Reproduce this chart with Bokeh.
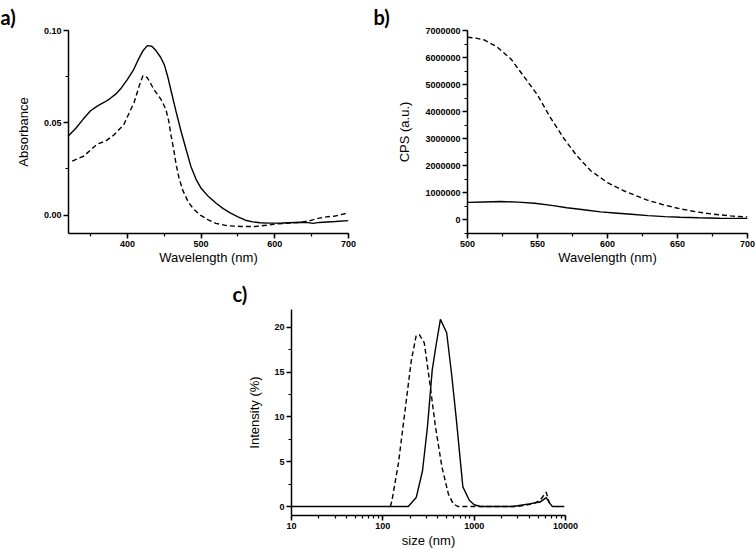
from bokeh.plotting import figure
from bokeh.layouts import column, row, Spacer
from bokeh.models import Range1d, SingleIntervalTicker, NumeralTickFormatter, LogTicker
from bokeh.embed import file_html
from bokeh.resources import INLINE

# ---- panel a: absorbance ----
a_wl_solid = [320, 330, 340, 350, 359, 368, 376, 384, 392, 400, 408, 415, 421, 427, 433, 439, 445, 450,
              455, 460, 466, 473, 480, 486, 493, 500, 510, 520, 530, 540, 550, 560, 570, 580, 591, 610,
              636, 645, 652, 660, 682, 700]
a_abs_solid = [0.043, 0.047, 0.052, 0.0565, 0.059, 0.061, 0.063, 0.0655, 0.069, 0.0735, 0.0785, 0.0845,
               0.089, 0.0918, 0.0915, 0.089, 0.0855, 0.0815, 0.0745, 0.066, 0.056, 0.045, 0.035, 0.0265,
               0.0195, 0.0145, 0.0100, 0.0065, 0.0035, 0.001, -0.001, -0.0028, -0.0037, -0.0042, -0.0044,
               -0.0043, -0.0039, -0.0041, -0.0045, -0.0040, -0.0035, -0.003]
a_wl_dashed = [325, 341, 352, 359, 370, 382, 395, 409, 416, 421, 427, 436, 445, 452, 456, 459, 463, 466,
               470, 475, 482, 489, 499, 509, 520, 536, 555, 573, 590, 600, 620, 636, 648, 659, 670, 682, 700]
a_abs_dashed = [0.0292, 0.032, 0.036, 0.0385, 0.040, 0.0435, 0.049, 0.061, 0.070, 0.0755, 0.0745, 0.068,
                0.063, 0.0575, 0.051, 0.0435, 0.035, 0.0275, 0.020, 0.0135, 0.0075, 0.0035, 0.000,
                -0.0025, -0.0045, -0.0058, -0.0062, -0.0062, -0.0055, -0.0049, -0.0044, -0.0039, -0.003,
                -0.0018, -0.001, -0.0005, 0.0012]

# ---- panel b: emission ----
b_wl_dashed = [500, 506, 512, 521, 531, 540, 550, 559, 569, 578, 588, 600, 612, 628, 640, 652, 664, 676, 688, 700]
b_cps_dashed = [6750000, 6720000, 6650000, 6400000, 5950000, 5320000, 4620000, 3800000, 3000000, 2380000,
                1820000, 1380000, 1070000, 740000, 560000, 410000, 295000, 210000, 150000, 110000]
b_wl_solid = [500, 512, 524, 536, 548, 560, 571, 583, 595, 605, 617, 629, 641, 652, 665, 680, 700]
b_cps_solid = [650000, 665000, 680000, 660000, 620000, 540000, 450000, 380000, 300000, 260000, 210000,
               160000, 125000, 100000, 80000, 65000, 60000]

# ---- panel c: DLS size distribution ----
c_size_solid = [10, 190, 232, 272, 308, 347, 377, 427, 500, 566, 640, 752, 885, 1000, 1175, 2630, 4000,
                5250, 6150, 6800, 7200, 9700]
c_int_solid = [0, 0, 1.0, 4.0, 8.9, 15.2, 17.6, 20.9, 19.4, 14.8, 9.6, 2.2, 0.7, 0.2, 0, 0, 0.3, 0.5,
               1.0, 0.3, 0, 0]
c_size_dashed = [121, 126, 148, 175, 205, 232, 251, 284, 321, 377, 444, 522, 590, 667, 1100, 3000, 4400,
                 5250, 6150, 6600, 7000]
c_int_dashed = [0, 0.7, 4.8, 10.7, 16.3, 19.1, 19.2, 18.3, 14.4, 8.9, 4.4, 1.4, 0.3, 0, 0, 0, 0.3, 0.7,
                1.6, 0.5, 0]

TICK_FONT = "Liberation Sans"
LINE_W = 1.4
DASH = "5 3"


def style(p, xlabel, ylabel, ylabel_standoff, xlabel_standoff=0):
    p.grid.visible = False
    p.outline_line_color = None
    for ax in (p.xaxis[0], p.yaxis[0]):
        ax.axis_line_color = "black"
        ax.axis_line_width = 1.5
        ax.major_tick_line_color = "black"
        ax.major_tick_line_width = 1.5
        ax.minor_tick_line_color = "black"
        ax.minor_tick_line_width = 1.2
        ax.major_tick_in = 0
        ax.major_tick_out = 5
        ax.minor_tick_in = 0
        ax.minor_tick_out = 3
        ax.major_label_text_font = TICK_FONT
        ax.major_label_text_font_style = "bold"
        ax.major_label_text_font_size = "9px"
        ax.major_label_text_color = "black"
        ax.major_label_standoff = 2
        ax.axis_label_text_font = TICK_FONT
        ax.axis_label_text_font_style = "normal"
        ax.axis_label_text_font_size = "13px"
        ax.axis_label_text_color = "black"
    p.xaxis.axis_label = xlabel
    p.yaxis.axis_label = ylabel
    p.xaxis.axis_label_standoff = xlabel_standoff
    p.yaxis.axis_label_standoff = ylabel_standoff


def panel_title(p, offset, standoff):
    t = p.title
    t.align = "left"
    t.offset = offset
    t.standoff = standoff
    t.text_font = "Lato"
    t.text_font_style = "bold"
    t.text_font_size = "20px"
    t.text_line_height = 1.0
    t.text_color = "black"


# panel a
pa = figure(width=370, height=275, title="a)", x_range=Range1d(320, 700), y_range=Range1d(-0.01, 0.10),
            output_backend="svg", toolbar_location=None,
            min_border_left=68, min_border_right=22, min_border_top=27, min_border_bottom=42)
pa.line(a_wl_solid, a_abs_solid, line_color="black", line_width=LINE_W)
pa.line(a_wl_dashed, a_abs_dashed, line_color="black", line_width=LINE_W, line_dash=DASH)
style(pa, "Wavelength (nm)", "Absorbance", 10)
pa.xaxis.ticker = SingleIntervalTicker(interval=100, num_minor_ticks=2)
pa.yaxis.ticker = SingleIntervalTicker(interval=0.05, num_minor_ticks=2)
pa.yaxis.formatter = NumeralTickFormatter(format="0.00")
panel_title(pa, -68, 4)

# panel b
pb = figure(width=386, height=275, title="b)", x_range=Range1d(500, 700), y_range=Range1d(-500000, 7000000),
            output_backend="svg", toolbar_location=None,
            min_border_left=97, min_border_right=9, min_border_top=27, min_border_bottom=42)
pb.line(b_wl_solid, b_cps_solid, line_color="black", line_width=LINE_W)
pb.line(b_wl_dashed, b_cps_dashed, line_color="black", line_width=LINE_W, line_dash=DASH)
style(pb, "Wavelength (nm)", "CPS (a.u.)", 10)
pb.xaxis.ticker = SingleIntervalTicker(interval=50, num_minor_ticks=2)
pb.yaxis.ticker = SingleIntervalTicker(interval=1000000, num_minor_ticks=2)
pb.yaxis.formatter = NumeralTickFormatter(format="0")
panel_title(pb, -94, 4)

# panel c
pc = figure(width=360, height=275, title="c)", x_axis_type="log", x_range=Range1d(10, 10000),
            y_range=Range1d(-1, 22), output_backend="svg", toolbar_location=None,
            min_border_left=66, min_border_right=20, min_border_top=33, min_border_bottom=35)
pc.line(c_size_solid, c_int_solid, line_color="black", line_width=LINE_W)
pc.line(c_size_dashed, c_int_dashed, line_color="black", line_width=LINE_W, line_dash=DASH)
style(pc, "size (nm)", "Intensity (%)", 9, 1)
pc.xaxis.ticker = LogTicker(num_minor_ticks=10)
pc.xaxis.formatter = NumeralTickFormatter(format="0")
pc.yaxis.ticker = SingleIntervalTicker(interval=5, num_minor_ticks=2)
panel_title(pc, -59, 8)

layout = column(row(pa, pb), row(Spacer(width=225, height=275), pc))

open("out.html", "w").write(file_html(layout, INLINE))
